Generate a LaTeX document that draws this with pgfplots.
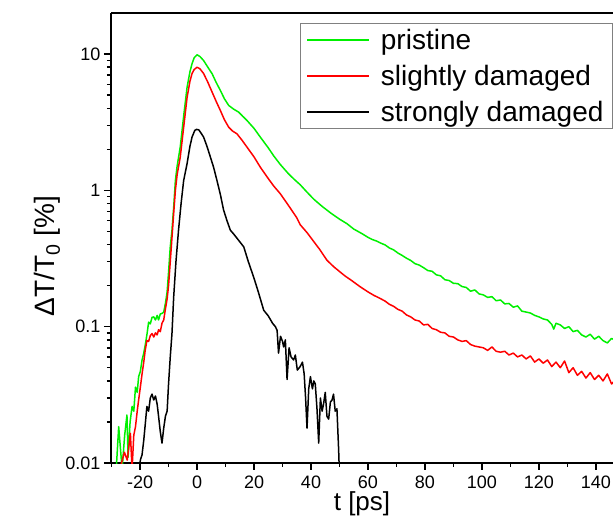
\documentclass[border=0pt]{standalone}
\usepackage{pgfplots}
\pgfplotsset{compat=1.18}
\usepackage{fontspec}
\setmainfont{Liberation Sans}

\definecolor{pgreen}{RGB}{0,240,0}
\definecolor{pred}{RGB}{255,0,0}

\begin{document}
\begin{tikzpicture}
\begin{axis}[
  scale only axis,
  width=502pt, height=450pt,
  ymode=log,
  xmin=-30.2, xmax=146,
  ymin=0.01, ymax=20,
  axis x line*=bottom,
  axis y line*=left,
  axis line style={line width=1.6pt},
  tick align=outside,
  major tick length=7pt,
  minor tick length=4pt,
  every tick/.style={black, line width=1.5pt},
  xtick={-20,0,20,40,60,80,100,120,140},
  xticklabels={-20,0,20,40,60,80,100,120,140},
  minor xtick={-30,-10,10,30,50,70,90,110,130},
  ytick={0.01,0.1,1,10},
  yticklabels={0.01,0.1,1,10},
  minor ytick={0.02,0.03,0.04,0.05,0.06,0.07,0.08,0.09,
               0.2,0.3,0.4,0.5,0.6,0.7,0.8,0.9,
               2,3,4,5,6,7,8,9},
  ticklabel style={font=\fontsize{18}{20}\selectfont},
  xticklabel style={yshift=-2pt},
  xlabel={t [ps]},
  ylabel={ΔT/T\textsubscript{0} [\%]},
  label style={font=\fontsize{28}{30}\selectfont},
  xlabel style={font=\fontsize{26}{28}\selectfont, yshift=1pt, inner sep=1pt},
  ylabel style={at={(ticklabel cs:0.46)}, yshift=-2pt},
  clip=true,
  legend cell align=left,
  legend style={at={(0.3765,0.978)}, anchor=north west,
    draw=gray, line width=0.8pt,
    font=\fontsize{28}{30}\selectfont,
    inner xsep=6pt, inner ysep=3pt,
    row sep=8pt,
    nodes={inner sep=3pt},
    /tikz/every odd column/.append style={column sep=8pt}},
  legend image code/.code={\draw[#1, line width=1.5pt] (6pt,0pt) -- (68pt,0pt);},
  every axis plot/.append style={line width=1.5pt, line join=round},
]
\addplot[pgreen] coordinates {
(-30,0.008) (-28.5,0.008) (-27.5,0.0185) (-26.3,0.009) (-25.4,0.016) (-24.6,0.0225)
(-24.2,0.011) (-23.5,0.02) (-22.8,0.026) (-22.2,0.024) (-21.6,0.036) (-21.0,0.033)
(-20.5,0.043) (-19.9,0.047) (-19.3,0.057) (-18.7,0.064) (-18.1,0.075) (-17.5,0.09)
(-17.0,0.108) (-16.4,0.105) (-15.8,0.117) (-15.2,0.118) (-14.6,0.112) (-14.0,0.121)
(-13.5,0.112) (-12.9,0.124) (-12.3,0.125) (-11.7,0.128) (-11.1,0.148) (-10.5,0.18)
(-10.0,0.25) (-9.4,0.385) (-8.8,0.51) (-8.2,0.75) (-7.6,1.18) (-7,1.5) (-5.9,2.08)
(-4.7,3.5) (-3.5,5.7) (-2.5,7.4) (-1.75,8.5) (-1,9.4) (0,9.87) (1,9.6) (2.3,8.96)
(3.8,8.0) (5.3,7.16) (6.7,6.2) (8.2,5.4) (9.6,4.7) (11.1,4.2) (12.8,3.95) (14.6,3.75)
(16,3.5) (17.5,3.26) (20,2.85) (22.2,2.46) (25,2.05) (27,1.78) (29.2,1.55) (32,1.33)
(34,1.21) (36.2,1.1) (38.6,0.97) (41,0.86) (44,0.76) (47,0.68) (50,0.615) (52.6,0.57)
(55,0.52) (58,0.48) (60,0.452) (61.5,0.436) (63,0.425) (64.5,0.41) (66,0.398)
(67.5,0.378) (69,0.366) (70.5,0.347) (72,0.333) (73.5,0.318) (75,0.306) (76.5,0.29)
(78,0.283) (79.5,0.271) (81,0.258) (82.5,0.255) (84,0.24) (85.5,0.236) (87,0.221)
(88.5,0.218) (90,0.208) (91.5,0.207) (93,0.197) (94.5,0.194) (96,0.182) (97.5,0.186)
(99,0.174) (100.5,0.171) (102,0.164) (103.5,0.166) (105,0.155) (106.5,0.157)
(108,0.147) (109.5,0.148) (111,0.139) (112.5,0.142) (114,0.13) (115.5,0.128)
(117,0.126) (118.5,0.121) (120,0.118) (121.5,0.114) (123,0.112) (124.5,0.104)
(125.2,0.096) (126,0.106) (127.5,0.103) (129,0.097) (130.5,0.1) (132,0.092)
(133.5,0.094) (135,0.087) (136.5,0.084) (138,0.088) (139.5,0.081) (141,0.085)
(142.5,0.079) (144,0.076) (145.5,0.082) (147,0.079)
};
\addlegendentry{pristine}
\addplot[pred] coordinates {
(-30,0.008) (-27,0.008) (-26.8,0.0095) (-25.5,0.012) (-24.5,0.0105) (-23.4,0.0165)
(-22.8,0.009) (-22.2,0.016) (-21.6,0.0185) (-21,0.024) (-20.5,0.029) (-19.9,0.036)
(-19.3,0.045) (-18.7,0.055) (-18.2,0.067) (-17.6,0.079) (-17,0.078) (-16.4,0.086)
(-15.8,0.089) (-15.2,0.084) (-14.6,0.09) (-14.0,0.087) (-13.5,0.095) (-12.9,0.092)
(-12.3,0.106) (-11.7,0.112) (-11.1,0.135) (-10.5,0.16) (-10,0.2) (-9.4,0.3)
(-8.8,0.45) (-8.2,0.68) (-7.6,1.0) (-7,1.3) (-5.9,1.75) (-4.7,2.9) (-3.5,4.8)
(-2.5,6.3) (-1.75,7.2) (-1,7.7) (0,8.0) (1,7.8) (2.3,7.2) (3.8,6.2) (5.3,5.25)
(6.7,4.5) (8.2,3.85) (9.6,3.3) (11.1,2.91) (12.5,2.72) (14,2.6) (15.8,2.33)
(17.5,2.08) (20,1.76) (22.2,1.48) (25,1.22) (27,1.07) (29.2,0.946) (32,0.78)
(35,0.63) (36.2,0.56) (38.6,0.49) (41,0.42) (43,0.37) (45.6,0.307) (48,0.275)
(50,0.254) (52,0.235) (54,0.22) (57.3,0.196) (60,0.18) (62,0.17) (64.3,0.161)
(66,0.154) (67.5,0.146) (69,0.141) (70.5,0.134) (72,0.13) (73.5,0.122) (75,0.118)
(76.5,0.112) (78,0.11) (79.5,0.103) (81,0.104) (82.5,0.097) (84,0.095) (85.5,0.091)
(87,0.09) (88.5,0.085) (90,0.084) (91.5,0.08) (93,0.078) (94.5,0.079) (96,0.074)
(97.5,0.072) (99,0.071) (100.5,0.07) (102,0.067) (103.5,0.071) (105,0.066)
(106.5,0.065) (108,0.066) (109.5,0.062) (111,0.064) (112.5,0.06) (114,0.062)
(115.5,0.058) (117,0.061) (118.5,0.055) (120,0.058) (121.5,0.054) (123,0.057)
(124.5,0.051) (126,0.055) (127.5,0.05) (129,0.056) (130.5,0.046) (132,0.05)
(133.5,0.044) (135,0.047) (136.5,0.042) (138,0.046) (139.5,0.041) (141,0.044)
(142.5,0.04) (144,0.045) (145.5,0.038) (147,0.041)
};
\addlegendentry{slightly damaged}
\addplot[black] coordinates {
(-30,0.008) (-20.5,0.008) (-19.9,0.0105) (-19.3,0.0115) (-18.7,0.0147) (-18.2,0.019)
(-17.6,0.026) (-17,0.024) (-16.4,0.03) (-15.8,0.032) (-15.2,0.029) (-14.6,0.031)
(-14,0.027) (-13.5,0.022) (-12.9,0.017) (-12.3,0.014) (-11.7,0.018) (-11.1,0.022)
(-10.5,0.024) (-10,0.038) (-9.4,0.06) (-8.8,0.089) (-8.2,0.165) (-7.4,0.3)
(-6.5,0.51) (-5.6,0.8) (-4.7,1.18) (-3.5,1.57) (-2.5,2.1) (-1.75,2.46) (-0.8,2.75)
(-0.2,2.8) (0.6,2.78) (1.2,2.67) (2.3,2.46) (3.5,2.1) (4.7,1.75) (5.8,1.48) (7,1.18)
(8.2,0.93) (9.3,0.72) (10.5,0.6) (11.7,0.51) (12.8,0.48) (14.6,0.43) (16.4,0.385)
(18,0.3) (19.9,0.23) (21.5,0.18) (23.4,0.132) (25,0.12) (26.5,0.106) (27.5,0.1)
(28.1,0.094) (28.6,0.064) (29.3,0.085) (30,0.078) (30.4,0.071) (31,0.08) (31.6,0.041)
(32.3,0.07) (33,0.06) (33.9,0.057) (34.5,0.062) (35.2,0.048) (36.2,0.051) (37,0.055)
(37.6,0.045) (38.1,0.03) (38.6,0.018) (39.2,0.035) (39.8,0.043) (40.5,0.035)
(41.0,0.04) (41.5,0.038) (42.1,0.025) (42.7,0.014) (43.3,0.03) (43.9,0.024)
(44.4,0.027) (45,0.033) (45.6,0.022) (46.2,0.021) (46.8,0.028) (47.4,0.029)
(47.9,0.032) (48.5,0.024) (49.1,0.025) (49.7,0.0125) (50,0.008)
};
\addlegendentry{strongly damaged}
\draw[line width=1.6pt] (rel axis cs:0,1) -- (rel axis cs:1,1);
\end{axis}
\pgfresetboundingbox
\path (-111pt,-56pt) rectangle (502pt,463pt);
\end{tikzpicture}
\end{document}
